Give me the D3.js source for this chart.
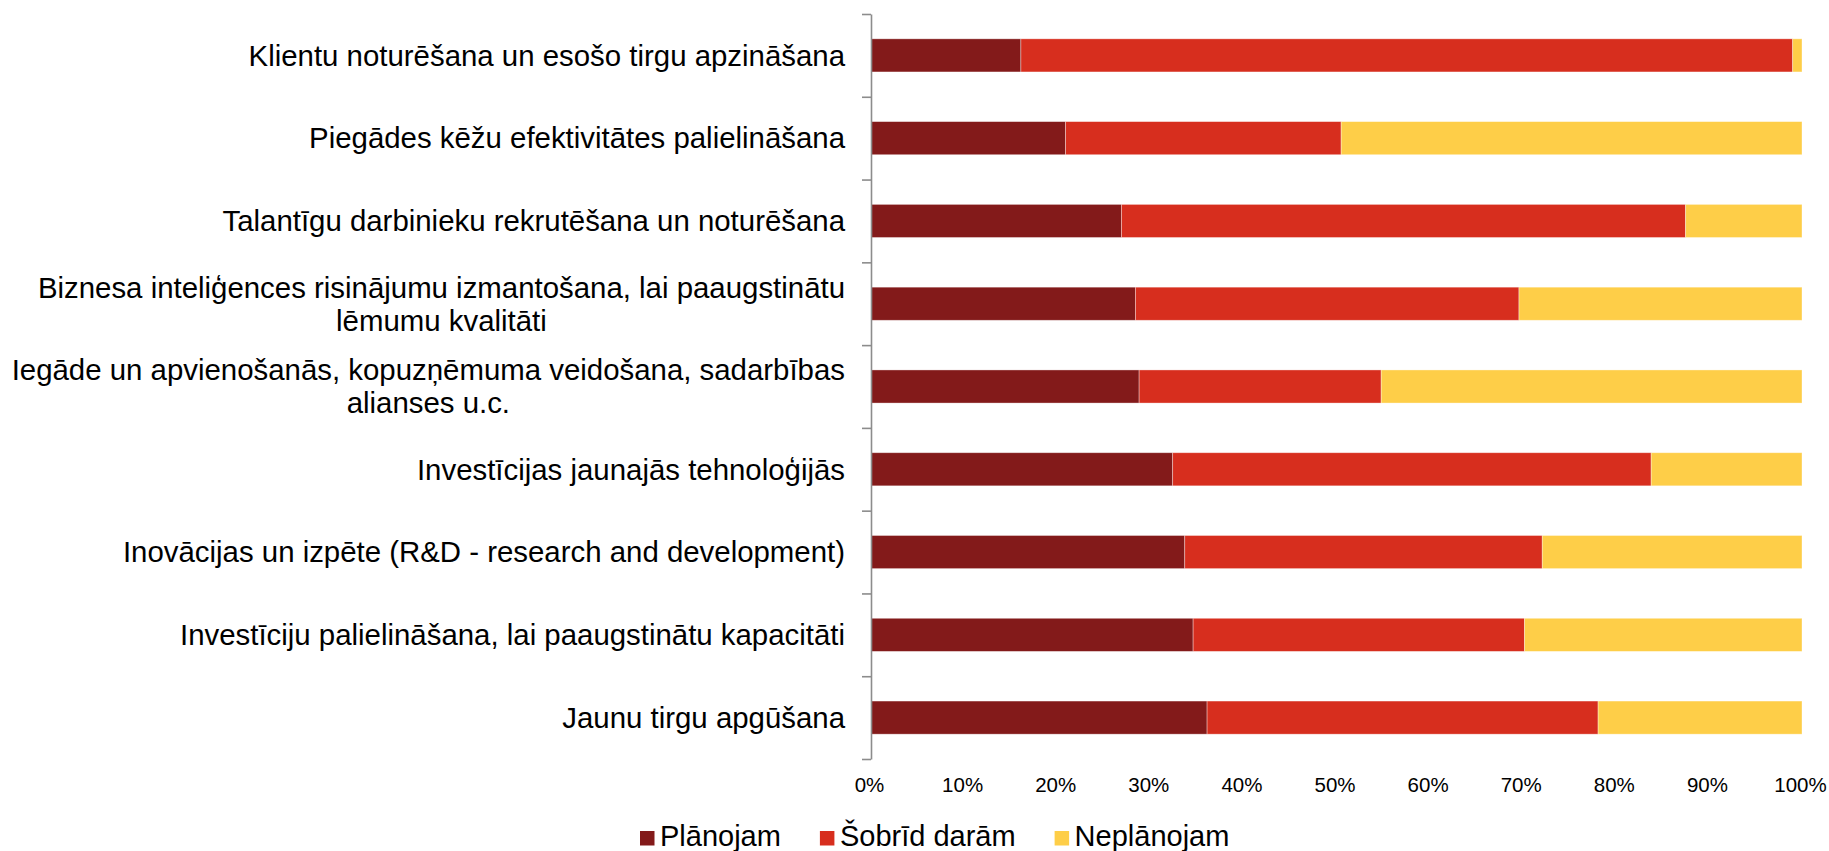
<!DOCTYPE html>
<html>
<head>
<meta charset="utf-8">
<script src="https://cdn.jsdelivr.net/npm/d3@7"></script>
<style>
  body { margin: 0; background: #fff; }
  svg { display: block; font-family: "Liberation Sans", Arial, sans-serif; }
</style>
</head>
<body>
<svg width="1829" height="851"></svg>
<script>
    // categories, top to bottom; a line break is marked with '|'
    const categories = [
      'Klientu noturēšana un esošo tirgu apzināšana',
      'Piegādes kēžu efektivitātes palielināšana',
      'Talantīgu darbinieku rekrutēšana un noturēšana',
      'Biznesa inteliģences risinājumu izmantošana, lai paaugstinātu|lēmumu kvalitāti',
      'Iegāde un apvienošanās, kopuzņēmuma veidošana, sadarbības|alianses u.c.',
      'Investīcijas jaunajās tehnoloģijās',
      'Inovācijas un izpēte (R&D - research and development)',
      'Investīciju palielināšana, lai paaugstinātu kapacitāti',
      'Jaunu tirgu apgūšana'
    ]
    const seriesNames = ['Plānojam', 'Šobrīd darām', 'Neplānojam']
    const planojam = [16.1, 20.9, 26.9, 28.4, 28.8, 32.4, 33.7, 34.6, 36.1]
    const sobrid = [82.9, 29.6, 60.6, 41.2, 26.0, 51.4, 38.4, 35.6, 42.0]
    const neplanojam = [1.0, 49.5, 12.5, 30.4, 45.2, 16.2, 27.9, 29.8, 21.9]
    const xTicks = [0, 10, 20, 30, 40, 50, 60, 70, 80, 90, 100]
    const colors = ['#831a1a', '#d72e1e', '#fece48']

    const rows = categories.map(function(c, i) {
      return {cat: c, 'Plānojam': planojam[i], 'Šobrīd darām': sobrid[i], 'Neplānojam': neplanojam[i]}
    })
    const stacked = d3.stack().keys(seriesNames)(rows)

    const plotLeft = 871, plotRight = 1802, plotTop = 14, plotBottom = 759
    const xs = d3.scaleLinear().domain([0, 100]).range([plotLeft, plotRight])
    const yb = d3.scaleBand().domain(categories).range([plotTop, plotBottom]).paddingInner(0.6).paddingOuter(0.3)
    const yEdge = d3.scaleLinear().domain([0, categories.length]).range([plotTop, plotBottom])

    const svg = d3.select('svg')

    // bars
    svg.append('g').attr('id', 'chart').selectAll('g').data(stacked).enter().append('g')
      .attr('fill', function(d, i) { return colors[i] })
      .selectAll('rect').data(function(d) { return d }).enter().append('rect')
        .attr('x', function(d) { return xs(d[0]) })
        .attr('y', function(d) { return yb(d.data.cat) })
        .attr('width', function(d) { return xs(d[1]) - xs(d[0]) })
        .attr('height', yb.bandwidth())
        .attr('stroke', '#fff')
        .attr('stroke-opacity', 0.45)
        .attr('stroke-width', 0.8)

    // vertical category axis with ticks between categories
    const yaxis = svg.append('g').attr('id', 'yaxis').attr('transform', 'translate(' + plotLeft + ',0)')
      .call(d3.axisLeft(yEdge).tickValues(d3.range(categories.length + 1)).tickFormat('').tickSize(9).tickSizeOuter(0))
    yaxis.selectAll('path, line').attr('stroke', '#8c8c8c').attr('stroke-width', 1.6)

    // category labels
    const labels = svg.append('g').attr('id', 'ylabels')
    categories.forEach(function(c) {
      const lines = c.split('|')
      const cy = yb(c) + yb.bandwidth() / 2
      const t = labels.append('text')
        .attr('font-size', 29.4)
        .attr('fill', '#000')
        .attr('text-anchor', lines.length > 1 ? 'middle' : 'end')
      lines.forEach(function(l, k) {
        t.append('tspan')
          .attr('y', cy + (k - (lines.length - 1) / 2) * 33)
          .attr('dy', '0.35em')
          .text(l)
      })
      if (lines.length > 1) {
        let w = 0
        t.selectAll('tspan').each(function() { w = Math.max(w, this.getComputedTextLength()) })
        t.selectAll('tspan').attr('x', 845 - w / 2)
      } else {
        t.selectAll('tspan').attr('x', 845)
      }
    })

    // percentage axis labels
    const xaxis = svg.append('g').attr('id', 'xaxis').attr('transform', 'translate(-2,777)')
      .call(d3.axisBottom(xs).tickValues(xTicks).tickSize(0).tickPadding(0).tickFormat(function(d) { return d + '%' }))
    xaxis.select('.domain').remove()
    xaxis.selectAll('text').attr('font-size', 20.5).attr('fill', '#000')
      .attr('font-family', '"Liberation Sans", Arial, sans-serif')

    // legend
    const legend = svg.append('g').attr('id', 'legend')
    let lx = 640
    seriesNames.forEach(function(name, i) {
      legend.append('rect')
        .attr('x', lx).attr('y', 831)
        .attr('width', 14.5).attr('height', 14.5)
        .attr('fill', colors[i])
      const txt = legend.append('text')
        .attr('x', lx + 20).attr('y', 846)
        .attr('font-size', 29).attr('fill', '#000')
        .text(name)
      lx = lx + 20 + txt.node().getComputedTextLength() + 39
    })
</script>
</body>
</html>
